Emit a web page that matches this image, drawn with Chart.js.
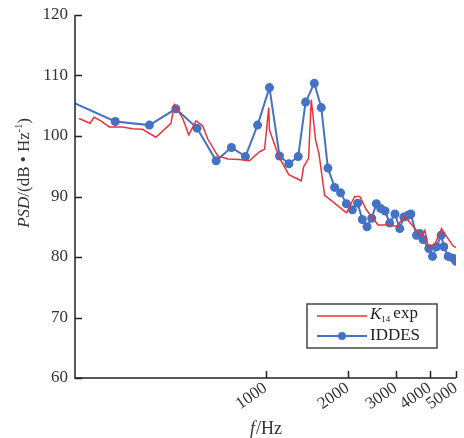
<!DOCTYPE html>
<html>
<head>
<meta charset="utf-8">
<script src="https://cdn.jsdelivr.net/npm/chart.js@4"></script>
<style>
  html, body { margin: 0; padding: 0; background: #fff; }
  #wrap { width: 464px; height: 438px; }
</style>
</head>
<body>
<div id="wrap"><canvas id="psdChart"></canvas></div>
<script>
// ========= Data =========
const freqExp = [207, 227, 235, 249, 267, 299, 325, 354, 396, 450, 463, 497, 523, 556, 588, 614, 668, 727, 802, 873, 951, 992, 1028, 1034, 1119, 1218, 1353, 1380, 1439, 1472, 1527, 1571, 1648, 1768, 1981, 2125, 2218, 2345, 2588, 2817, 3029, 3244, 3479, 3737, 3843, 3953, 4181, 4426, 4614, 4885, 5000];
const psdExp = [102.9, 102.1, 103.1, 102.5, 101.5, 101.5, 101.2, 101.1, 99.8, 102.1, 105.2, 102.9, 100.2, 102.5, 101.7, 99.5, 96.7, 96.2, 96.1, 95.9, 97.4, 97.8, 104.7, 101.0, 96.6, 93.6, 92.6, 94.9, 96.3, 106.0, 99.3, 97.1, 90.2, 89.1, 87.3, 90.0, 90.0, 87.8, 85.3, 85.3, 85.1, 86.7, 85.1, 83.4, 84.4, 81.7, 82.1, 84.7, 83.4, 81.8, 81.6];

const freqIddes = [200, 281, 375, 469, 561, 659, 750, 844, 935, 1034, 1126, 1218, 1318, 1403, 1510, 1602, 1694, 1793, 1886, 1981, 2083, 2178, 2266, 2358, 2453, 2551, 2647, 2746, 2856, 2985, 3109, 3215, 3335, 3413, 3581, 3682, 3787, 3975, 4100, 4242, 4412, 4510, 4680, 4885, 5000];
const psdIddes = [105.4, 102.4, 101.8, 104.5, 101.3, 95.9, 98.1, 96.6, 101.8, 108.0, 96.7, 95.4, 96.6, 105.6, 108.7, 104.7, 94.7, 91.5, 90.6, 88.8, 87.8, 88.9, 86.2, 85.0, 86.4, 88.8, 88.0, 87.6, 85.6, 87.1, 84.7, 86.6, 86.9, 87.1, 83.6, 83.9, 82.9, 81.4, 80.1, 81.7, 83.6, 81.7, 80.1, 79.8, 79.3];

const xTicks = [1000, 2000, 3000, 4000, 5000];
const yTicks = [60, 70, 80, 90, 100, 110, 120];

// ========= Styles =========
const RED = "#e8333b";
const BLUE = "#4472c4";
const AXIS = "#222";
const TEXT = "#333";
const SERIF = "'Liberation Serif', 'Times New Roman', serif";

// ========= Axes, titles and legend drawn on canvas =========
const decorPlugin = {
    id: "decor",
    afterDraw(chart) {
        const { ctx, chartArea: a, scales } = chart;
        const x = scales.x, y = scales.y;
        ctx.save();
        ctx.strokeStyle = AXIS;
        ctx.lineWidth = 1.5;
        ctx.beginPath();
        ctx.moveTo(a.left, a.top);
        ctx.lineTo(a.left, a.bottom);
        ctx.lineTo(a.right, a.bottom);
        ctx.stroke();
        ctx.beginPath();
        yTicks.forEach(v => {
            const py = Math.round(y.getPixelForValue(v)) + 0.5;
            ctx.moveTo(a.left, py);
            ctx.lineTo(a.left + 7, py);
        });
        xTicks.forEach(v => {
            const px = Math.round(x.getPixelForValue(v)) + 0.5;
            ctx.moveTo(px, a.bottom);
            ctx.lineTo(px, a.bottom - 7);
        });
        ctx.stroke();

        // x title: f/Hz
        ctx.fillStyle = TEXT;
        ctx.textBaseline = "middle";
        const cx = (a.left + a.right) / 2;
        ctx.font = "italic 18px " + SERIF;
        const wf = ctx.measureText("f").width;
        ctx.font = "18px " + SERIF;
        const wr = ctx.measureText("/Hz").width;
        let sx = cx - (wf + wr) / 2;
        ctx.font = "italic 18px " + SERIF;
        ctx.fillText("f", sx, 429);
        ctx.font = "18px " + SERIF;
        ctx.fillText("/Hz", sx + wf + 1, 429);

        // y title: PSD/(dB • Hz-1)
        ctx.save();
        ctx.translate(25, 173);
        ctx.rotate(-Math.PI / 2);
        const parts = [
            ["PSD", "italic 17px " + SERIF, 0],
            ["/(dB • Hz", "17px " + SERIF, 0],
            ["-1", "10px " + SERIF, -6],
            [")", "17px " + SERIF, 0],
        ];
        let total = 0;
        parts.forEach(p => { ctx.font = p[1]; total += ctx.measureText(p[0]).width; });
        let tx = -total / 2;
        parts.forEach(p => {
            ctx.font = p[1];
            ctx.fillText(p[0], tx, p[2]);
            tx += ctx.measureText(p[0]).width;
        });
        ctx.restore();

        // legend box
        const lx = 307, ly = 304, lw = 130, lh = 44;
        ctx.fillStyle = "#fff";
        ctx.fillRect(lx, ly, lw, lh);
        ctx.strokeStyle = "#444";
        ctx.lineWidth = 1.5;
        ctx.strokeRect(lx, ly, lw, lh);

        ctx.lineWidth = 1.5;
        ctx.strokeStyle = RED;
        ctx.beginPath();
        ctx.moveTo(317, 316);
        ctx.lineTo(367, 316);
        ctx.stroke();
        ctx.strokeStyle = BLUE;
        ctx.lineWidth = 2;
        ctx.beginPath();
        ctx.moveTo(317, 336);
        ctx.lineTo(367, 336);
        ctx.stroke();
        ctx.fillStyle = BLUE;
        ctx.beginPath();
        ctx.arc(342, 336, 4, 0, Math.PI * 2);
        ctx.fill();

        ctx.fillStyle = "#222";
        ctx.textBaseline = "middle";
        ctx.font = "italic 17px " + SERIF;
        ctx.fillText("K", 370, 315);
        let kx = 370 + ctx.measureText("K").width;
        ctx.font = "9px " + SERIF;
        ctx.fillText("14", kx, 320);
        kx += ctx.measureText("14").width + 3;
        ctx.font = "17px " + SERIF;
        ctx.fillText("exp", kx, 314);
        ctx.fillText("IDDES", 370, 336);
        ctx.restore();
    },
};

// ========= Chart =========
const psdCtx = document.getElementById("psdChart");
new Chart(psdCtx, {
    type: "line",
    data: {
        datasets: [
            {
                label: "K14 exp",
                data: freqExp.map((f, i) => ({ x: f, y: psdExp[i] })),
                borderColor: RED,
                borderWidth: 1.5,
                pointRadius: 0,
                tension: 0,
            },
            {
                label: "IDDES",
                data: freqIddes.map((f, i) => ({ x: f, y: psdIddes[i] })),
                borderColor: BLUE,
                backgroundColor: BLUE,
                borderWidth: 2,
                pointRadius: c => (c.dataIndex === 0 ? 0 : 4.5),
                pointBorderWidth: 0,
                tension: 0,
            },
        ],
    },
    options: {
        responsive: true,
        maintainAspectRatio: false,
        animation: false,
        layout: { padding: { left: 0, right: 8, top: 15, bottom: 0 } },
        plugins: {
            legend: { display: false },
            tooltip: { enabled: false },
        },
        scales: {
            x: {
                type: "logarithmic",
                min: 200,
                max: 5000,
                afterBuildTicks: s => { s.ticks = xTicks.map(v => ({ value: v })); },
                afterFit: s => { s.height = 60; s.paddingLeft = 0; s.paddingRight = 0; },
                ticks: {
                    color: TEXT,
                    font: { family: SERIF, size: 17 },
                    minRotation: 35,
                    maxRotation: 35,
                    padding: -8,
                    callback: v => String(v),
                },
                grid: { display: false, drawTicks: true, tickLength: 8 },
                border: { display: false },
            },
            y: {
                min: 60,
                max: 120,
                afterBuildTicks: s => { s.ticks = yTicks.map(v => ({ value: v })); },
                afterFit: s => { s.width = 75; s.paddingTop = 0; s.paddingBottom = 0; },
                ticks: {
                    color: TEXT,
                    font: { family: SERIF, size: 17 },
                    padding: -1,
                },
                grid: { display: false, drawTicks: true, tickLength: 8 },
                border: { display: false },
            },
        },
    },
    plugins: [decorPlugin],
});
</script>
</body>
</html>
